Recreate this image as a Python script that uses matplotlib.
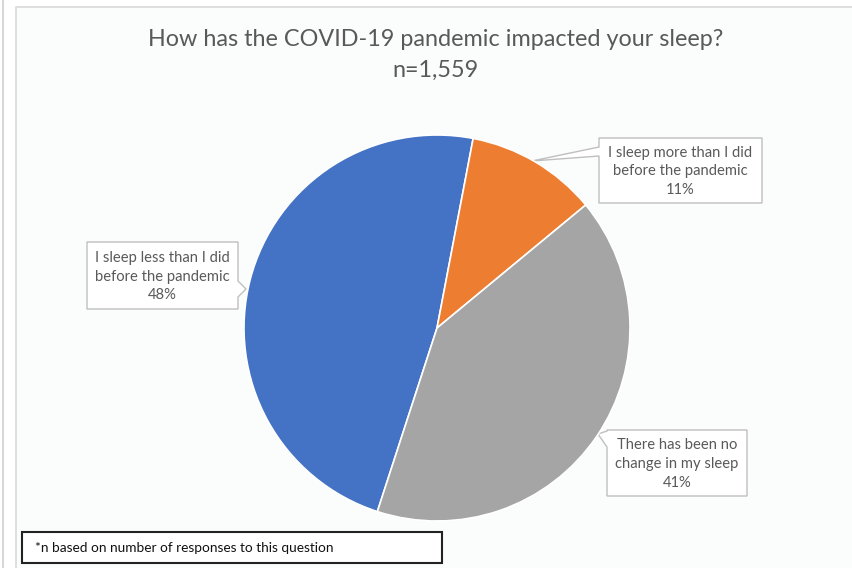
import matplotlib
matplotlib.use("Agg")
import matplotlib.pyplot as plt
from matplotlib.patches import Polygon, Rectangle
import numpy as np

categories = ["I sleep less than I did\nbefore the pandemic",
              "I sleep more than I did\nbefore the pandemic",
              "There has been no\nchange in my sleep"]
values = [48, 11, 41]
colors = ["#4472C4", "#ED7D31", "#A5A5A5"]
title = "How has the COVID-19 pandemic impacted your sleep?"
subtitle = "n=1,559"
footnote = "*n based on number of responses to this question"

W, H = 852, 568
fig = plt.figure(figsize=(W / 100, H / 100), dpi=100)
fig.patch.set_facecolor("white")

FONT = "Lato"
TXT = "#595959"

# background frame
bg = fig.add_axes([0, 0, 1, 1])
bg.set_xlim(0, W)
bg.set_ylim(H, 0)
bg.axis("off")
bg.add_patch(Rectangle((16, 7), W, H, facecolor="#fbfcfc", edgecolor="#d9d9d9", lw=1.2))
bg.plot([3, 3], [0, H], color="#d0d0d0", lw=1.2)

# pie
cx, cy, R = 437, 328, 193
ax = fig.add_axes([(cx - R) / W, (H - cy - R) / H, 2 * R / W, 2 * R / H])
wedges, _ = ax.pie(values, colors=colors, startangle=-108.0, counterclock=False,
                   radius=1.0, wedgeprops=dict(edgecolor="white", linewidth=1.2))
ax.set_xlim(-1, 1)
ax.set_ylim(-1, 1)
ax.set_aspect("equal")
ax.axis("off")

# title
bg.text(436, 40, title, ha="center", va="center", fontsize=16.8, color=TXT, family=FONT)
bg.text(436, 70, subtitle, ha="center", va="center", fontsize=16.8, color=TXT, family=FONT)


def callout(box, side, base, tip, text):
    x0, y0, x1, y1 = box
    if side == "right":
        pts = [(x0, y0), (x1, y0), (x1, base[0]), tip, (x1, base[1]), (x1, y1), (x0, y1)]
    else:
        pts = [(x0, y0), (x1, y0), (x1, y1), (x0, y1), (x0, base[1]), tip, (x0, base[0])]
    bg.add_patch(Polygon(pts, closed=True, facecolor="white", edgecolor="#bfbfbf", lw=1.0, zorder=5))
    bg.text((x0 + x1) / 2, (y0 + y1) / 2 + 1, text, ha="center", va="center", fontsize=10.6,
            color=TXT, family=FONT, linespacing=1.45, zorder=6)


labels = [f"{c}\n{v}%" for c, v in zip(categories, values)]
callout((87, 242, 238, 309), "right", (281, 297), (246, 289), labels[0])
callout((599, 138, 762, 203), "left", (147, 156), (532, 161), labels[1])
callout((607, 430, 747, 496), "left", (431, 447), (598, 434), labels[2])

# footnote box
bg.add_patch(Rectangle((22, 532), 420, 31, facecolor="white", edgecolor="#222222", lw=1.5, zorder=5))
bg.text(35, 548, footnote, ha="left", va="center", fontsize=9.8, color="#111111", family=FONT, zorder=6)

fig.savefig("out.png", dpi=100)
